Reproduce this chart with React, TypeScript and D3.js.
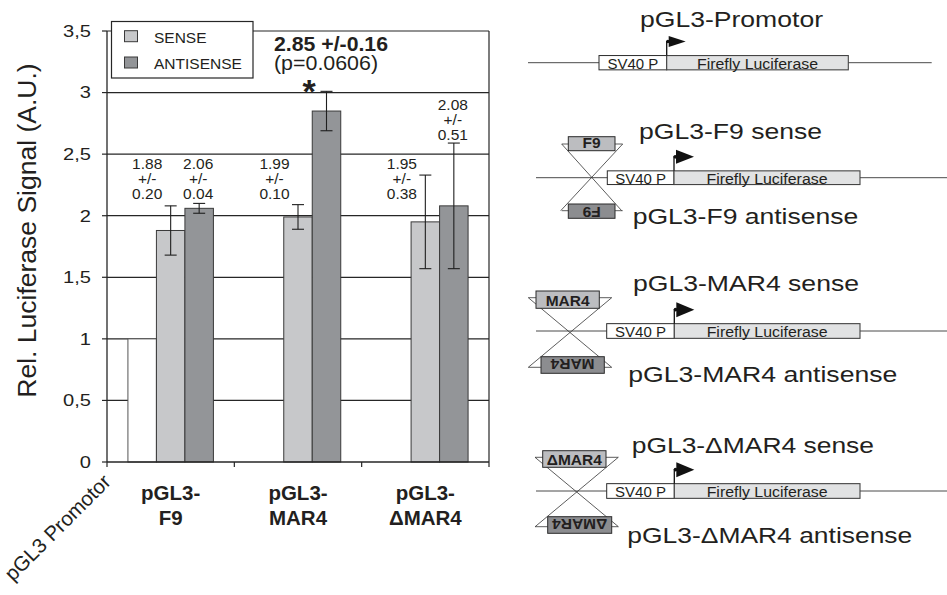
import React from "react";
import * as d3 from "d3";

// ---------- data ----------
const categories = ["pGL3-F9", "pGL3-MAR4", "pGL3-ΔMAR4"];
const categoryLines = [["pGL3-", "F9"], ["pGL3-", "MAR4"], ["pGL3-", "ΔMAR4"]];
const seriesKeys = ["promoter", "sense", "antisense"];
const promoterValues = [1, 0, 0];
const senseValues = [1.88, 1.99, 1.95];
const senseErrors = [0.2, 0.1, 0.38];
const antisenseValues = [2.06, 2.85, 2.08];
const antisenseErrors = [0.04, 0.16, 0.51];
const yTicks = [0, 0.5, 1, 1.5, 2, 2.5, 3, 3.5];
const yTickLabels = ["0", "0,5", "1", "1,5", "2", "2,5", "3", "3,5"];
const highlightIndex = 1;
const pValueText = "(p=0.0606)";
const legendLabels = ["SENSE", "ANTISENSE"];
const promoterLabel = "pGL3 Promotor";
const yAxisTitle = "Rel. Luciferase Signal (A.U.)";

// diagram content
const constructTitles = ["pGL3-Promotor", "pGL3-F9", "pGL3-MAR4", "pGL3-ΔMAR4"];
const insertNames = ["", "F9", "MAR4", "ΔMAR4"];

// ---------- style ----------
const FONT = "'Liberation Sans', Arial, Helvetica, sans-serif";
const INK = "#231f20";
const C_SENSE = "#c7c8ca";
const C_ANTI = "#939598";
const C_FIRE = "#e1e2e3";
const C_INS_TOP = "#bcbdc0";
const C_INS_BOT = "#8c8d90";

function T(p: any) {
  const { x, y, size, sx = 1, anchor = "start", weight = "normal", rotate = 0, fill = INK, len, children } = p;
  return (
    <text
      transform={`translate(${x},${y}) rotate(${rotate}) scale(${sx},1)`}
      fontSize={size}
      fontFamily={FONT}
      fontWeight={weight}
      textAnchor={anchor}
      fill={fill}
      textLength={len}
      lengthAdjust={len ? "spacingAndGlyphs" : undefined}
    >
      {children}
    </text>
  );
}

export default function App() {
  const W = 947, H = 595;
  const left = 107, right = 489, top = 31, bottom = 462;
  const y = d3.scaleLinear().domain([0, 3.5]).range([bottom, top]);
  const x0 = d3.scaleBand<string>().domain(categories).range([left, right]).paddingInner(0).paddingOuter(0);
  const x1 = d3.scaleBand<string>().domain(seriesKeys).range([0, x0.bandwidth()]).paddingInner(0).paddingOuter(0.734);
  const bw = x1.bandwidth();

  const bars: any[] = [];
  categories.forEach((c, i) => {
    bars.push({ key: "promoter", c, i, v: promoterValues[i], e: null });
    bars.push({ key: "sense", c, i, v: senseValues[i], e: senseErrors[i] });
    bars.push({ key: "antisense", c, i, v: antisenseValues[i], e: antisenseErrors[i] });
  });

  const fillOf = (k: string) => (k === "promoter" ? "#ffffff" : k === "sense" ? C_SENSE : C_ANTI);

  // diagram layout
  const dia = [
    { lineY: 62.7, lx0: 528, lx1: 931.7, sv: [599, 666.7], ff: [666.7, 848.3], bh: 14.3, tri: [17, 11], titleX: 640, titleY: 27.3, titleW: 183 },
    { lineY: 177.7, lx0: 536, lx1: 947, sv: [607.3, 674], ff: [674, 860], bh: 13.7, tri: [18, 14], titleX: 639, titleY: 139.3, titleW: 183,
      ins: { ax: 591.7, te: 144, be: 210.7, ex: [561.7, 622.7], tb: [568.3, 615, 136.7, 150.7], bb: [568.3, 615, 204, 218.3] },
      anti: { x: 632.7, y: 224, w: 225.6 } },
    { lineY: 331, lx0: 536, lx1: 947, sv: [606.7, 674.3], ff: [674.3, 860], bh: 14.7, tri: [18, 15], titleX: 633, titleY: 290.7, titleW: 226,
      ins: { ax: 570, te: 297.7, be: 367.3, ex: [528.3, 611.7], tb: [536, 599.3, 291, 308.3], bb: [541, 604.3, 356.7, 373.3] },
      anti: { x: 628.3, y: 381.7, w: 269 } },
    { lineY: 491, lx0: 536, lx1: 947, sv: [606.7, 674.3], ff: [674.3, 860], bh: 14.7, tri: [18, 15], titleX: 631.7, titleY: 452.7, titleW: 242.3,
      ins: { ax: 576.7, te: 457.3, be: 526.7, ex: [535, 618.3], tb: [542.7, 606, 450.7, 467.3], bb: [547.7, 611.7, 516.7, 533.3] },
      anti: { x: 627.3, y: 543.3, w: 285 } },
  ];

  return (
    <svg width={W} height={H} style={{ position: "absolute", left: 0, top: 0 }} xmlns="http://www.w3.org/2000/svg">
      <rect width={W} height={H} fill="#fff" />

      {/* gridlines */}
      {yTicks.filter((t) => t > 0).map((t) => (
        <line key={"g" + t} x1={left} x2={right} y1={y(t)} y2={y(t)} stroke="#262626" strokeWidth={1.2} />
      ))}
      {/* right border */}
      <line x1={right} x2={right} y1={top} y2={bottom} stroke="#262626" strokeWidth={1.2} />

      {/* bars */}
      {bars.map((b) => {
        const bx = (x0(b.c) as number) + (x1(b.key) as number);
        const h = bottom - y(b.v);
        return (
          <rect
            key={b.key + b.i}
            x={bx}
            y={y(b.v)}
            width={bw}
            height={h}
            fill={fillOf(b.key)}
            stroke={b.key === "promoter" ? "#555" : "#3a3a3a"}
            strokeWidth={b.v === 0 ? 1.6 : 1}
          />
        );
      })}

      {/* error bars */}
      {bars.filter((b) => b.e !== null).map((b) => {
        const cx = (x0(b.c) as number) + (x1(b.key) as number) + bw / 2;
        const y1 = y(b.v + b.e), y2 = y(b.v - b.e);
        return (
          <g key={"e" + b.key + b.i} stroke="#1f1f1f" strokeWidth={1.1}>
            <line x1={cx} x2={cx} y1={y1} y2={y2} />
            <line x1={cx - 6} x2={cx + 6} y1={y1} y2={y1} />
            <line x1={cx - 6} x2={cx + 6} y1={y2} y2={y2} />
          </g>
        );
      })}

      {/* axes */}
      <line x1={left} x2={left} y1={top} y2={bottom} stroke="#262626" strokeWidth={1.3} />
      <line x1={left} x2={right} y1={bottom} y2={bottom} stroke="#262626" strokeWidth={1.3} />
      {yTicks.map((t, i) => (
        <g key={"yt" + t}>
          <line x1={left - 5} x2={left} y1={y(t)} y2={y(t)} stroke="#262626" strokeWidth={1.2} />
          <T x={91} y={y(t) + 5.8} size={16.5} sx={1.22} anchor="end">{yTickLabels[i]}</T>
        </g>
      ))}
      {[left, ...categories.map((c) => (x0(c) as number) + x0.bandwidth())].map((xx, i) => (
        <line key={"xt" + i} x1={xx} x2={xx} y1={bottom} y2={bottom + 5} stroke="#262626" strokeWidth={1.2} />
      ))}

      {/* value labels */}
      {bars.filter((b) => b.e !== null && !(b.key === "antisense" && b.i === highlightIndex)).map((b) => {
        const cx = (x0(b.c) as number) + (x1(b.key) as number) + bw / 2;
        const lx = b.key === "sense" ? cx - 23.5 : cx - 1;
        const last = b.key === "sense" ? 199 : Math.min(199, y(b.v + b.e) - 3);
        return (
          <g key={"l" + b.key + b.i}>
            <T x={lx} y={last - 30} size={15.5} anchor="middle">{b.v.toFixed(2)}</T>
            <T x={lx} y={last - 15} size={15.5} anchor="middle">+/-</T>
            <T x={lx} y={last} size={15.5} anchor="middle">{b.e.toFixed(2)}</T>
          </g>
        );
      })}
      {(() => {
        const c = categories[highlightIndex];
        const cx = (x0(c) as number) + (x1("antisense") as number) + bw / 2;
        return (
          <g>
            <T x={274} y={51} size={20} weight="bold" len={114}>
              {antisenseValues[highlightIndex].toFixed(2) + " +/-" + antisenseErrors[highlightIndex].toFixed(2)}
            </T>
            <T x={274} y={69.5} size={20} len={104}>{pValueText}</T>
            <T x={cx - 17.5} y={103} size={34} weight="bold" anchor="middle">*</T>
          </g>
        );
      })()}

      {/* legend */}
      <rect x={111.5} y={21.5} width={141.5} height={56.5} fill="#fff" stroke="#262626" strokeWidth={1.2} />
      <rect x={124.5} y={30.7} width={13} height={11} fill={C_SENSE} stroke="#3a3a3a" strokeWidth={1} />
      <rect x={124.5} y={57} width={13} height={11} fill={C_ANTI} stroke="#3a3a3a" strokeWidth={1} />
      <T x={154} y={42.7} size={15.5}>{legendLabels[0]}</T>
      <T x={154} y={69} size={15.5}>{legendLabels[1]}</T>

      {/* x labels */}
      {categories.map((c, i) => {
        const cx = (x0(c) as number) + x0.bandwidth() / 2;
        return (
          <g key={"xl" + c}>
            <T x={cx} y={500} size={20.5} weight="bold" anchor="middle">{categoryLines[i][0]}</T>
            <T x={cx} y={525} size={20.5} weight="bold" anchor="middle">{categoryLines[i][1]}</T>
          </g>
        );
      })}
      <T x={112} y={483} size={20.5} rotate={-45} anchor="end">{promoterLabel}</T>

      {/* y title */}
      <T x={36} y={230.5} size={26.5} rotate={-90} anchor="middle">{yAxisTitle}</T>

      {/* diagrams */}
      {dia.map((d: any, i) => {
        const bt = d.lineY - d.bh / 2;
        const ax = d.sv[1];
        const tipY = bt - 14;
        return (
          <g key={"d" + i}>
            <line x1={d.lx0} x2={d.lx1} y1={d.lineY} y2={d.lineY} stroke="#4a4a4a" strokeWidth={1} />
            {d.ins && (
              <g>
                <g stroke="#333" strokeWidth={0.8} fill="none">
                  <line x1={d.ins.ex[0]} x2={d.ins.ex[1]} y1={d.ins.te} y2={d.ins.te} />
                  <line x1={d.ins.ex[0]} x2={d.ins.ex[1]} y1={d.ins.be} y2={d.ins.be} />
                  <line x1={d.ins.ex[0]} x2={2 * d.ins.ax - d.ins.ex[0]} y1={d.ins.te} y2={d.ins.be} />
                  <line x1={d.ins.ex[1]} x2={2 * d.ins.ax - d.ins.ex[1]} y1={d.ins.te} y2={d.ins.be} />
                </g>
                <rect x={d.ins.tb[0]} y={d.ins.tb[2]} width={d.ins.tb[1] - d.ins.tb[0]} height={d.ins.tb[3] - d.ins.tb[2]} fill={C_INS_TOP} stroke="#2b2b2b" strokeWidth={1} />
                <rect x={d.ins.bb[0]} y={d.ins.bb[2]} width={d.ins.bb[1] - d.ins.bb[0]} height={d.ins.bb[3] - d.ins.bb[2]} fill={C_INS_BOT} stroke="#2b2b2b" strokeWidth={1} />
                <T x={(d.ins.tb[0] + d.ins.tb[1]) / 2} y={d.ins.tb[3] - 2.5} size={15.5} weight="bold" anchor="middle">{insertNames[i]}</T>
                <T x={(d.ins.bb[0] + d.ins.bb[1]) / 2} y={d.ins.bb[2] + 2.5} size={15.5} weight="bold" anchor="middle" rotate={180}>{insertNames[i]}</T>
              </g>
            )}
            <rect x={d.sv[0]} y={bt} width={d.sv[1] - d.sv[0]} height={d.bh} fill="#fff" stroke="#2b2b2b" strokeWidth={1} />
            <rect x={d.ff[0]} y={bt} width={d.ff[1] - d.ff[0]} height={d.bh} fill={C_FIRE} stroke="#444" strokeWidth={1.1} />
            <T x={(d.sv[0] + d.sv[1]) / 2} y={bt + d.bh - 1} size={15} anchor="middle">SV40 P</T>
            <T x={(d.ff[0] + d.ff[1]) / 2} y={bt + d.bh - 1} size={15.5} anchor="middle" len={121}>Firefly Luciferase</T>
            {/* promoter arrow */}
            <path d={`M${ax},${bt} V${tipY} H${ax + 3}`} stroke="#111" strokeWidth={1.3} fill="none" />
            <circle cx={ax + 1.2} cy={tipY} r={1.8} fill="#111" />
            <path d={`M${ax + 2},${tipY - d.tri[1] / 2} L${ax + 2 + d.tri[0]},${tipY} L${ax + 2},${tipY + d.tri[1] / 2} Z`} fill="#111" />
            <T x={d.titleX} y={d.titleY} size={22} len={d.titleW}>{constructTitles[i] + (i > 0 ? " sense" : "")}</T>
            {d.anti && <T x={d.anti.x} y={d.anti.y} size={22} len={d.anti.w}>{constructTitles[i] + " antisense"}</T>}
          </g>
        );
      })}
    </svg>
  );
}
